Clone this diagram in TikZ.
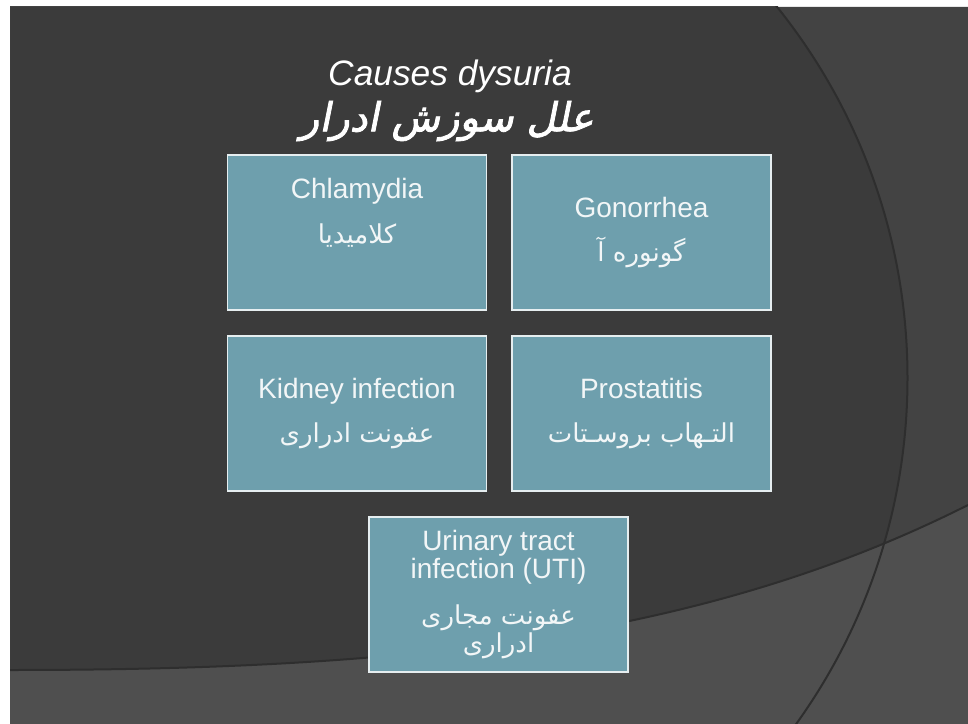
\documentclass[tikz,border=0pt]{standalone}
\usepackage{fontspec}
\setmainfont{Liberation Sans}
\newfontfamily\arabicfont[Script=Arabic]{DejaVu Sans}
\newfontfamily\arabictitle[Script=Arabic,FakeSlant=0.2,FakeBold=2]{DejaVu Sans}
\TeXXeTstate=1

\definecolor{slidebg}{HTML}{3B3B3B}
\definecolor{sliderim}{HTML}{434343}
\definecolor{slideband}{HTML}{4F4F4F}
\definecolor{slideedge}{HTML}{2E2E2E}
\definecolor{boxfill}{HTML}{6E9FAD}
\definecolor{boxline}{HTML}{E6EEF0}
\definecolor{boxtext}{HTML}{F2F6F7}

\newcommand{\fa}[1]{{\arabicfont\fontsize{19.5}{21}\selectfont\beginR #1\endR}}

\begin{document}
\begin{tikzpicture}[x=0.75pt,y=-0.75pt,
    cause/.style={draw=boxline, line width=1.2pt, fill=boxfill, text=boxtext,
        minimum width=194pt, minimum height=116.5pt, inner sep=2pt, align=center,
        font=\fontsize{21}{24}\selectfont}]
            \useasboundingbox (0,0) rectangle (968,724);
            \fill[white] (0,0) rectangle (968,724);

            % slide background
            \begin{scope}
                \clip (10,7) rectangle (968,724);
                \fill[slidebg] (10,7) rectangle (968,724);
                \fill[sliderim, even odd rule] (10,7) rectangle (968,724) (314.5,378) circle (593);
                \fill[slideband] (10,670) .. controls (400,670) and (700,640) .. (968,505)
                    -- (968,724) -- (10,724) -- cycle;
                \draw[slideedge, line width=1.5pt] (314.5,378) circle (593);
                \draw[slideedge, line width=1.5pt] (10,670) .. controls (400,670) and (700,640) .. (968,505);
            \end{scope}

            \node[text=white, font=\fontsize{26.5}{30}\selectfont\itshape] (title) at (450,76) {Causes dysuria};
            \node[text=white, font=\arabictitle\fontsize{30}{32}\selectfont] (titlefa) at (447,121)
                {\beginR علل سوزش ادرار\endR};

            \node[cause, text depth=32pt] (chla) at (357,232.5) {Chlamydia\\[10pt]\fa{کلامیدیا}};
            \node[cause] (gono) at (641.5,232.5) {Gonorrhea\\[9pt]\fa{گونوره آ}};
            \node[cause] (kidn) at (357,413.5) {Kidney infection\\[9pt]\fa{عفونت ادراری}};
            \node[cause] (pros) at (641.5,413.5) {Prostatitis\\[9pt]\fa{التـهاب بروسـتات}};
            \node[cause, font=\fontsize{21}{21}\selectfont] (uti) at (498.5,594.5)
                {Urinary tract\\infection (UTI)\\[14pt]\fa{عفونت مجاری}\\\fa{ادراری}};
\end{tikzpicture}
\end{document}
